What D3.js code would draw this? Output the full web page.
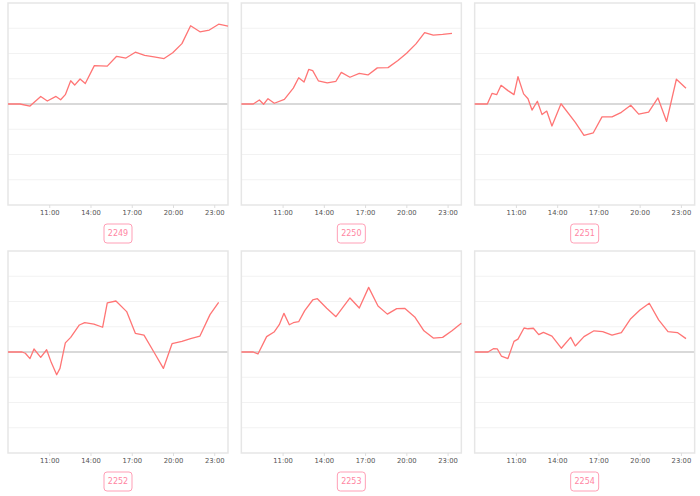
<!DOCTYPE html>
<html>
<head>
<meta charset="utf-8">
<script src="https://cdn.jsdelivr.net/npm/d3@7/dist/d3.min.js"></script>
<style>
  html, body { margin: 0; padding: 0; background: #fff; }
  svg { display: block; }
</style>
</head>
<body>
<svg id="chart" width="700" height="496"></svg>
<script>
// ---- data ----
const names = ["2249", "2250", "2251", "2252", "2253", "2254"];
const tickHours = [11, 14, 17, 20, 23];
const gridValues = [-3, -2, -1, 1, 2, 3];

const hours2249 = [8, 8.87, 9.6, 10.38, 10.86, 11.49, 11.83, 12.17, 12.56, 12.85, 13.24, 13.62, 14.28, 15.22, 15.9, 16.58, 17.26, 17.94, 18.62, 19.35, 19.98, 20.65, 21.28, 21.96, 22.64, 23.32, 24];
const values2249 = [0, 0, -0.08, 0.30, 0.12, 0.30, 0.17, 0.37, 0.92, 0.75, 0.99, 0.81, 1.52, 1.50, 1.89, 1.82, 2.05, 1.93, 1.87, 1.80, 2.03, 2.39, 3.10, 2.86, 2.93, 3.16, 3.08];

const hours2250 = [8, 8.87, 9.31, 9.62, 9.94, 10.4, 11.13, 11.78, 12.17, 12.56, 12.9, 13.19, 13.6, 14.25, 14.88, 15.27, 15.9, 16.58, 17.21, 17.89, 18.67, 19.39, 20.02, 20.7, 21.33, 21.96, 22.64, 23.32];
const values2250 = [0, 0, 0.16, -0.01, 0.21, 0.03, 0.18, 0.63, 1.04, 0.87, 1.37, 1.32, 0.92, 0.84, 0.90, 1.25, 1.06, 1.21, 1.15, 1.43, 1.44, 1.72, 2.01, 2.38, 2.83, 2.73, 2.76, 2.80];

const hours2251 = [8, 8.92, 9.26, 9.6, 9.92, 10.42, 10.86, 11.15, 11.56, 11.88, 12.17, 12.56, 12.9, 13.24, 13.62, 14.28, 15.32, 15.95, 16.63, 17.26, 17.99, 18.67, 19.35, 19.93, 20.65, 21.33, 21.96, 22.67, 23.37];
const values2251 = [0, 0, 0.42, 0.37, 0.74, 0.53, 0.37, 1.08, 0.40, 0.21, -0.24, 0.11, -0.42, -0.28, -0.87, 0.01, -0.73, -1.24, -1.14, -0.51, -0.51, -0.33, -0.05, -0.40, -0.32, 0.24, -0.69, 0.98, 0.62];

const hours2252 = [8, 9.02, 9.26, 9.6, 9.89, 10.38, 10.81, 11.15, 11.54, 11.78, 12.17, 12.56, 13.19, 13.58, 14.25, 14.88, 15.22, 15.85, 16.63, 17.26, 17.89, 18.62, 19.3, 19.93, 20.65, 21.28, 21.96, 22.69, 23.32];
const values2252 = [0, 0, -0.05, -0.26, 0.12, -0.21, 0.09, -0.42, -0.90, -0.65, 0.36, 0.58, 1.07, 1.16, 1.10, 0.98, 1.95, 2.02, 1.60, 0.74, 0.67, -0.01, -0.65, 0.33, 0.42, 0.53, 0.63, 1.48, 1.97];

const hours2253 = [8, 8.87, 9.21, 9.84, 10.38, 10.76, 11.1, 11.49, 11.78, 12.17, 12.61, 13.19, 13.53, 14.21, 14.88, 15.9, 16.58, 17.26, 17.94, 18.62, 19.3, 19.88, 20.61, 21.28, 21.96, 22.64, 23.32, 24];
const values2253 = [0, 0, -0.08, 0.61, 0.79, 1.08, 1.53, 1.08, 1.16, 1.20, 1.64, 2.06, 2.11, 1.73, 1.40, 2.14, 1.74, 2.56, 1.82, 1.50, 1.72, 1.73, 1.39, 0.84, 0.55, 0.58, 0.84, 1.14];

const hours2254 = [8, 8.97, 9.36, 9.65, 9.94, 10.42, 10.86, 11.15, 11.59, 11.88, 12.27, 12.66, 13.0, 13.62, 14.3, 14.98, 15.32, 15.95, 16.68, 17.31, 17.99, 18.67, 19.35, 20.02, 20.7, 21.38, 22.06, 22.74, 23.37];
const values2254 = [0, 0, 0.13, 0.12, -0.16, -0.26, 0.42, 0.51, 0.95, 0.92, 0.94, 0.69, 0.78, 0.63, 0.15, 0.58, 0.24, 0.61, 0.84, 0.81, 0.67, 0.77, 1.32, 1.66, 1.93, 1.27, 0.81, 0.77, 0.53];

const hoursList = [hours2249, hours2250, hours2251, hours2252, hours2253, hours2254];
const valuesList = [values2249, values2250, values2251, values2252, values2253, values2254];

// ---- layout ----
const W = 700, H = 496;
const cellW = W / 3, cellH = H / 2;
const plot = { left: 8, right: 228, top: 3, bottom: 205 };

const svg = d3.select("#chart");

const x = d3.scaleLinear().domain([8, 24]).range([plot.left, plot.right]);
const y = d3.scaleLinear().domain([-4, 4]).range([plot.bottom, plot.top]);

const line = d3.line().x(d => x(d[0])).y(d => y(d[1]));

names.forEach((name, i) => {
  const col = i % 3, row = Math.floor(i / 3);
  const g = svg.append("g").attr("transform", `translate(${col * cellW},${row * cellH})`);

  // grid lines
  g.selectAll("line.grid").data(gridValues).enter().append("line")
    .attr("class", "grid")
    .attr("x1", plot.left).attr("x2", plot.right)
    .attr("y1", d => y(d)).attr("y2", d => y(d))
    .attr("stroke", "#f2f2f2").attr("stroke-width", 1);

  // zero line
  g.append("line")
    .attr("x1", plot.left).attr("x2", plot.right)
    .attr("y1", y(0)).attr("y2", y(0))
    .attr("stroke", "#cccccc").attr("stroke-width", 1.5);

  // border
  g.append("rect")
    .attr("x", plot.left).attr("y", plot.top)
    .attr("width", plot.right - plot.left).attr("height", plot.bottom - plot.top)
    .attr("fill", "none").attr("stroke", "#e6e6e6").attr("stroke-width", 1.5);

  // axis
  const axis = d3.axisBottom(x).tickValues(tickHours)
    .tickFormat(h => h + ":00").tickSize(3).tickPadding(2.5);
  const ag = g.append("g").attr("transform", `translate(0,${plot.bottom})`).call(axis);
  ag.select(".domain").remove();
  ag.selectAll(".tick line").attr("stroke", "#dddddd");
  ag.selectAll(".tick text")
    .attr("fill", "#555").attr("font-family", "DejaVu Sans, sans-serif").attr("font-size", "6.8px");

  // series line
  const pts = hoursList[i].map((h, k) => [h, valuesList[i][k]]);
  g.append("path").datum(pts)
    .attr("d", line)
    .attr("fill", "none").attr("stroke", "#ff7575").attr("stroke-width", 1.3)
    .attr("stroke-linejoin", "round");

  // name label box
  const cx = (plot.left + plot.right) / 2;
  const cy = 233.5;
  g.append("rect")
    .attr("x", cx - 14).attr("y", cy - 9.5)
    .attr("width", 28).attr("height", 19).attr("rx", 3)
    .attr("fill", "#fff").attr("stroke", "#ff9fb6").attr("stroke-width", 1);
  g.append("text")
    .attr("x", cx).attr("y", cy)
    .attr("text-anchor", "middle").attr("dominant-baseline", "central")
    .attr("font-family", "DejaVu Sans, sans-serif").attr("font-size", "8px")
    .attr("fill", "#ff85a2")
    .text(name);
});
</script>
</body>
</html>
